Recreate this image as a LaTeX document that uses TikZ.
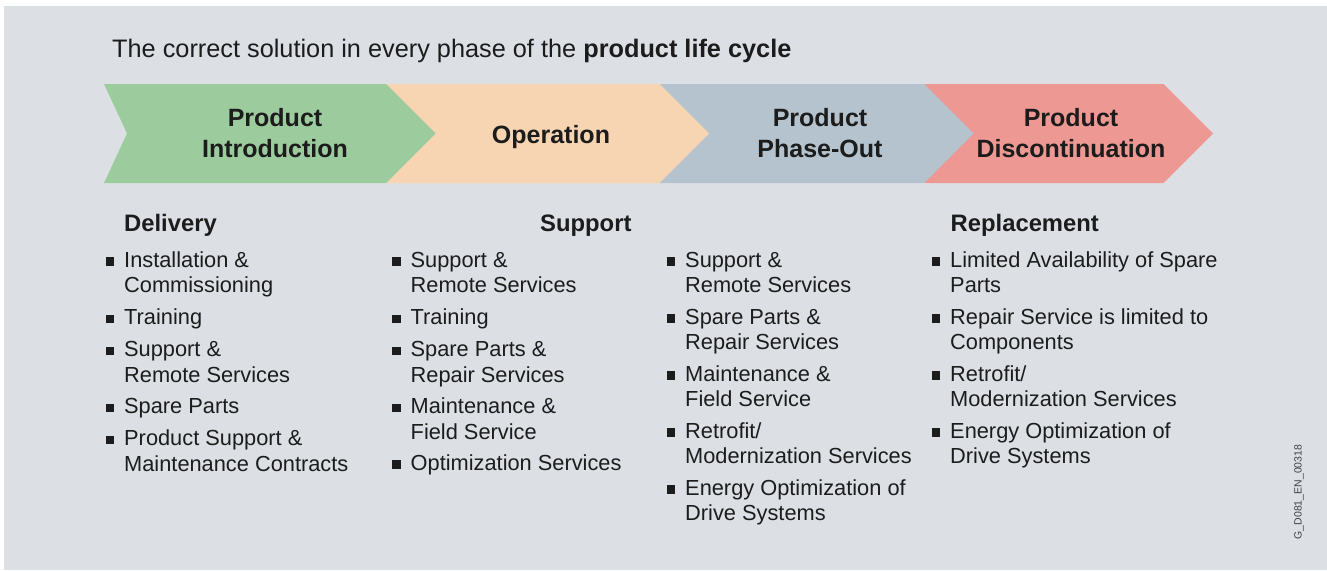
\documentclass[tikz,border=0pt]{standalone}
\usepackage{fontspec}
\setmainfont{Liberation Sans}
\definecolor{panel}{HTML}{DCE0E4}
\definecolor{cgreen}{HTML}{9CCC9E}
\definecolor{corange}{HTML}{F7D5B3}
\definecolor{cgray}{HTML}{B4C3CD}
\definecolor{cpink}{HTML}{EE9893}
\definecolor{ink}{HTML}{1C1C1C}
\newcommand\lsitem[4]{% name, bullet-left x, baseline y, text
  \node[bul] (#1b) at (#2+4.4,#3-5.6) {};
  \node[itm] (#1t) at (#2+18.5,#3) {\begin{tabular}[t]{@{}l@{}}#4\end{tabular}};
}
\begin{document}
\begin{tikzpicture}[x=1pt,y=-1pt,
  bul/.style={fill=ink,draw=none,minimum size=8.8pt,inner sep=0pt,outer sep=0pt},
  itm/.style={anchor=base west,inner sep=0pt,text=ink,font=\fontsize{21.8}{25.5}\selectfont},
  hdr/.style={anchor=base west,inner sep=0pt,text=ink,font=\fontsize{23.8}{28}\selectfont\bfseries},
  lbl/.style={anchor=base,inner sep=0pt,text=ink,font=\fontsize{25}{31}\selectfont\bfseries},
]
\useasboundingbox (0,0) rectangle (1327,570);
\fill[white] (0,0) rectangle (1327,570);
\fill[panel] (4,6) rectangle (1327,570);
% title
\node[anchor=base west,inner sep=0pt,text=ink,font=\fontsize{25.3}{30}\selectfont] (title) at (112,57)
  {The correct solution in every phase of the \textbf{product life cycle}};
% chevrons (back to front)
\fill[cpink]   (925,84) -- (1163.5,84) -- (1213,133.5) -- (1163.5,183) -- (925,183) -- cycle;
\fill[cgray]   (660,84) -- (924,84) -- (973.5,133.5) -- (924,183) -- (660,183) -- cycle;
\fill[corange] (386,84) -- (659.5,84) -- (709,133.5) -- (659.5,183) -- (386,183) -- cycle;
\fill[cgreen]  (104,84) -- (386,84) -- (435.5,133.5) -- (386,183) -- (104,183) -- (127,133.5) -- cycle;
\node[lbl] (p1) at (275,126) {\begin{tabular}[t]{@{}c@{}}Product\\Introduction\end{tabular}};
\node[lbl] (p2) at (551,143.5) {Operation};
\node[lbl] (p3) at (820,126) {\begin{tabular}[t]{@{}c@{}}Product\\Phase-Out\end{tabular}};
\node[lbl] (p4) at (1071,126) {\begin{tabular}[t]{@{}c@{}}Product\\Discontinuation\end{tabular}};
% headers
\node[hdr] (h1) at (124,231) {Delivery};
\node[hdr] (h2) at (540,231) {Support};
\node[hdr] (h4) at (950.5,231) {Replacement};
% column 1
\lsitem{a1}{105.5}{267}{Installation \&\\Commissioning}
\lsitem{a2}{105.5}{324.5}{Training}
\lsitem{a3}{105.5}{356.5}{Support \&\\Remote Services}
\lsitem{a4}{105.5}{413.5}{Spare Parts}
\lsitem{a5}{105.5}{445.5}{Product Support \&\\Maintenance Contracts}
% column 2
\lsitem{b1}{392}{267}{Support \&\\Remote Services}
\lsitem{b2}{392}{324.5}{Training}
\lsitem{b3}{392}{356.5}{Spare Parts \&\\Repair Services}
\lsitem{b4}{392}{413.5}{Maintenance \&\\Field Service}
\lsitem{b5}{392}{470}{Optimization Services}
% column 3
\lsitem{c1}{666.5}{267}{Support \&\\Remote Services}
\lsitem{c2}{666.5}{324}{Spare Parts \&\\Repair Services}
\lsitem{c3}{666.5}{381}{Maintenance \&\\Field Service}
\lsitem{c4}{666.5}{438}{Retrofit/\\Modernization Services}
\lsitem{c5}{666.5}{495}{Energy Optimization of\\Drive Systems}
% column 4
\lsitem{d1}{931.5}{267}{Limited Availability of Spare\\Parts}
\lsitem{d2}{931.5}{324}{Repair Service is limited to\\Components}
\lsitem{d3}{931.5}{381}{Retrofit/\\Modernization Services}
\lsitem{d4}{931.5}{438}{Energy Optimization of\\Drive Systems}
% code
\node[rotate=90,inner sep=0pt,text=black!75,font=\fontsize{10.5}{12}\selectfont] (code) at (1299,492) {G\_D081\_EN\_00318};
\end{tikzpicture}
\end{document}
